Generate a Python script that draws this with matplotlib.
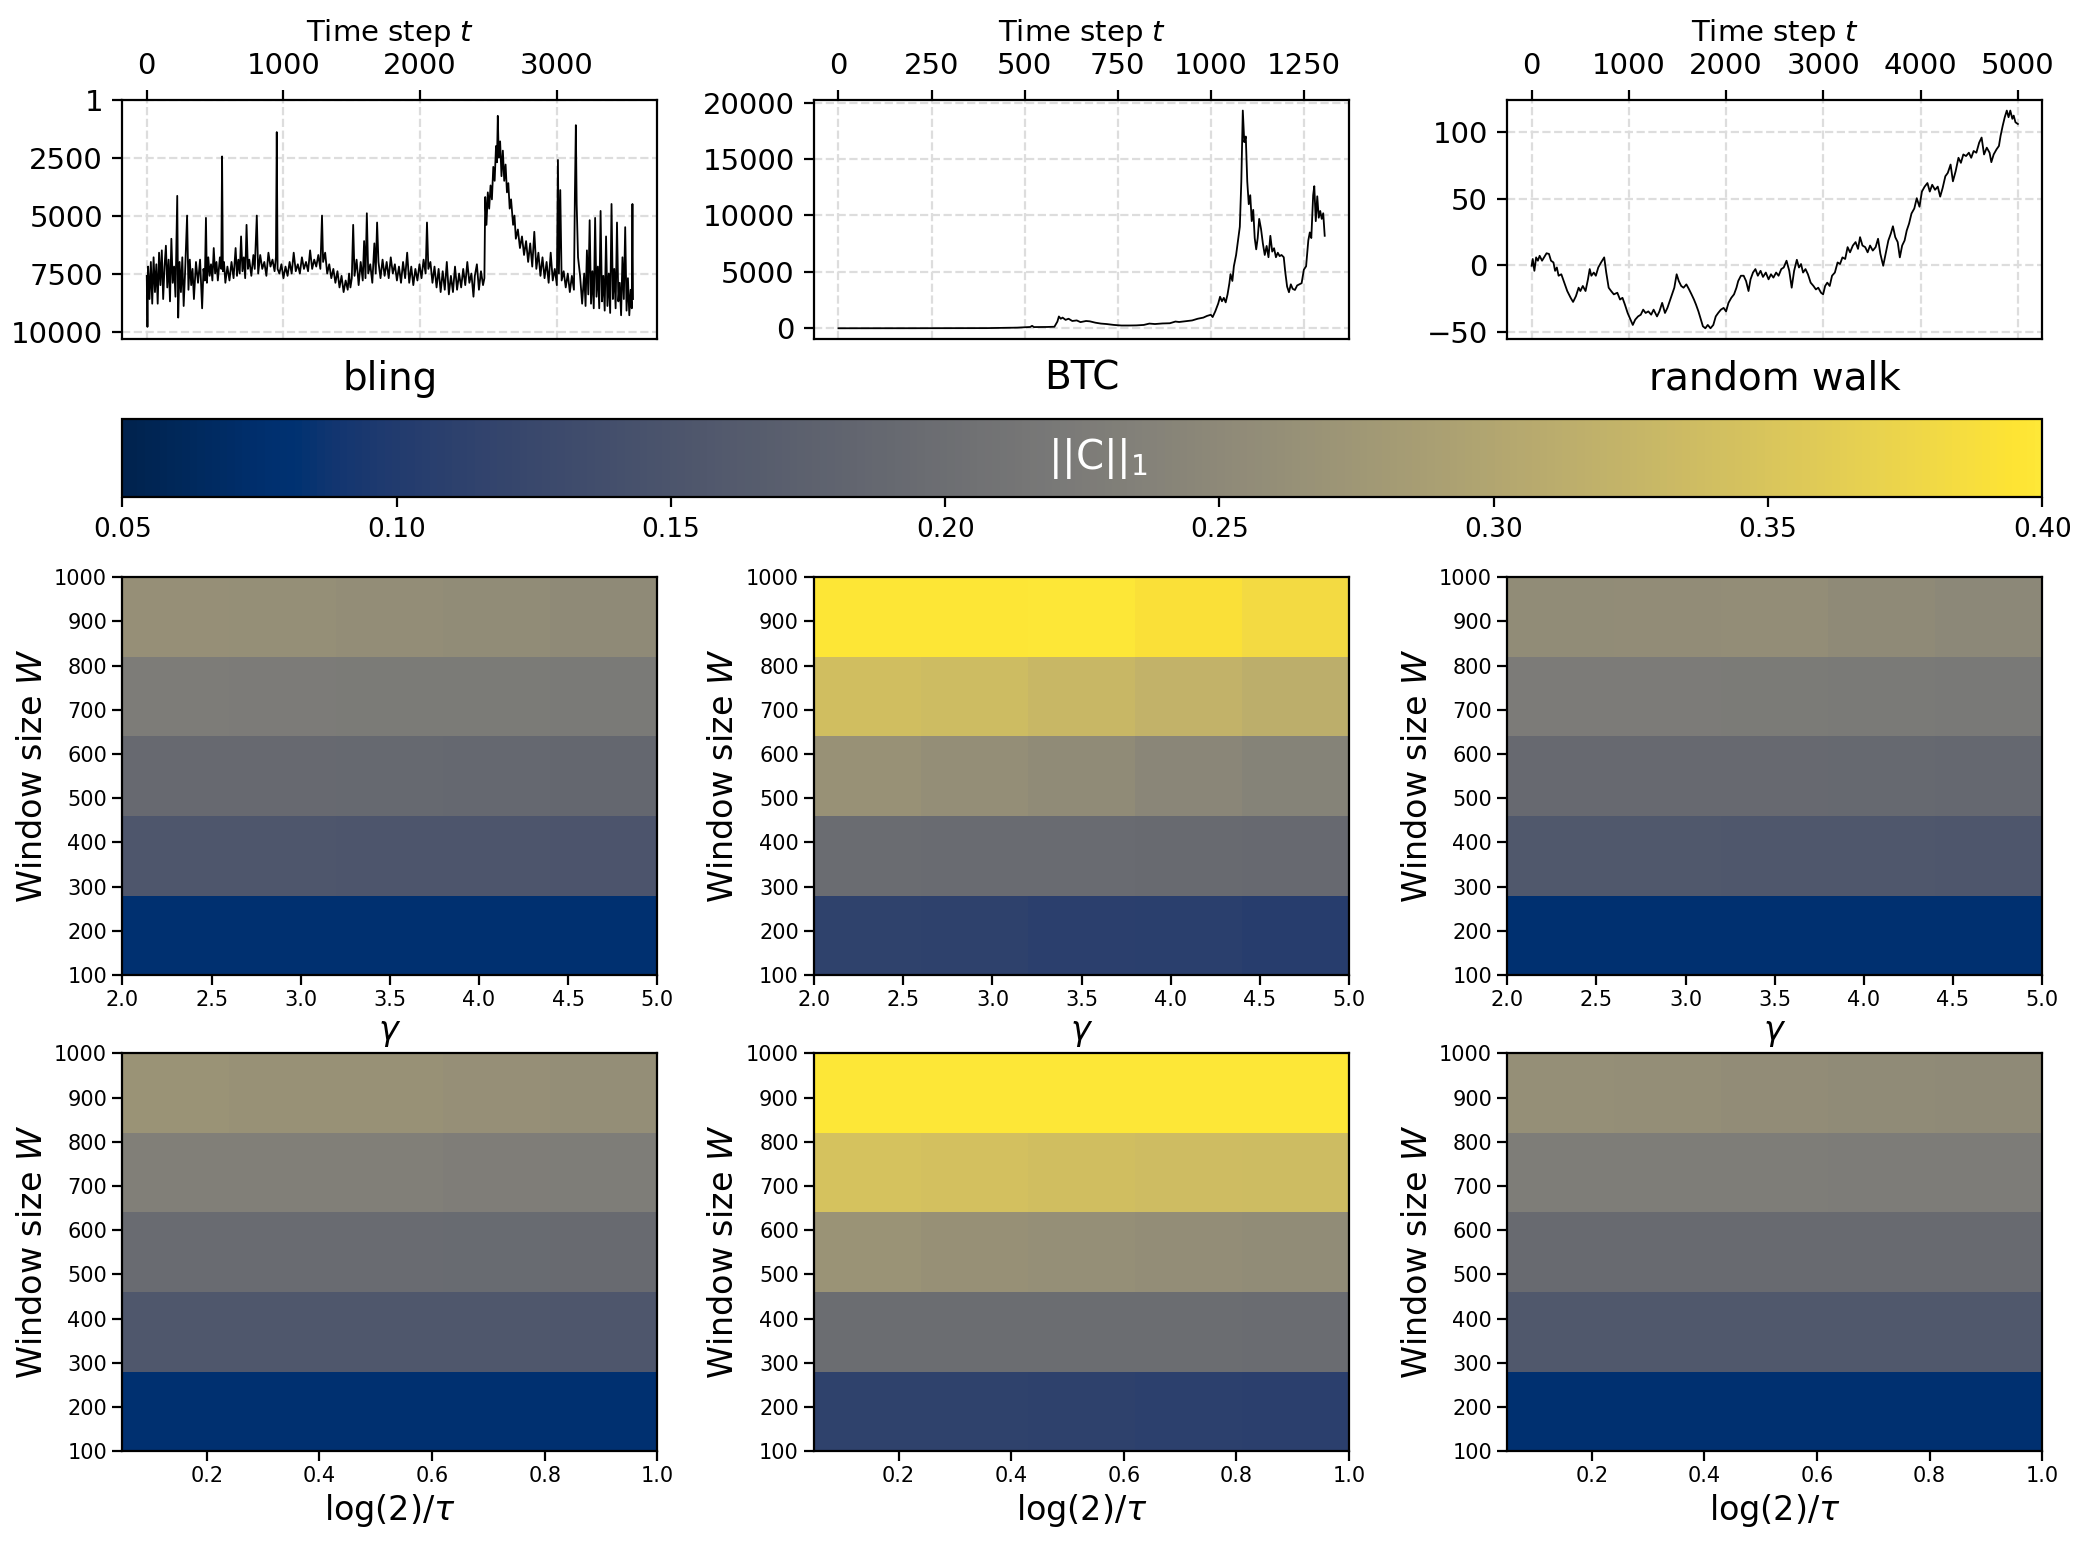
import numpy as np
import matplotlib
matplotlib.use("Agg")
import matplotlib.pyplot as plt

# --- time series ---
bling_t = [0, 5, 10, 20, 30, 40, 50, 60, 70, 80, 90, 100, 110, 120, 130, 140, 150, 160, 170, 180,
           190, 200, 210, 223, 230, 240, 250, 260, 270, 280, 295, 305, 315, 325, 335, 345, 360, 375,
           390, 405, 415, 425, 433, 440, 450, 460, 470, 480, 490, 500, 510, 520, 535, 545, 551, 557,
           565, 575, 590, 605, 620, 635, 650, 660, 670, 680, 690, 700, 710, 720, 730, 740, 750, 765,
           780, 790, 805, 815, 830, 845, 860, 875, 890, 905, 920, 935, 945, 951, 957, 970, 985, 1000,
           1015, 1030, 1045, 1060, 1075, 1090, 1105, 1120, 1135, 1150, 1165, 1180, 1195, 1210, 1225,
           1240, 1255, 1270, 1282, 1290, 1305, 1320, 1335, 1350, 1365, 1380, 1395, 1410, 1425, 1440,
           1455, 1470, 1480, 1490, 1500, 1510, 1520, 1535, 1550, 1565, 1580, 1590, 1600, 1610, 1620,
           1635, 1650, 1665, 1675, 1685, 1695, 1710, 1725, 1740, 1755, 1770, 1785, 1800, 1815, 1830,
           1845, 1860, 1875, 1890, 1905, 1920, 1935, 1950, 1965, 1980, 1995, 2010, 2025, 2040, 2050,
           2060, 2075, 2090, 2105, 2120, 2135, 2150, 2165, 2180, 2195, 2210, 2225, 2240, 2255, 2270,
           2285, 2300, 2315, 2330, 2345, 2360, 2375, 2390, 2400, 2415, 2430, 2445, 2460, 2470, 2476,
           2485, 2495, 2505, 2515, 2525, 2535, 2545, 2555, 2562, 2568, 2575, 2585, 2595, 2605, 2615,
           2625, 2635, 2645, 2655, 2665, 2680, 2690, 2700, 2715, 2730, 2745, 2760, 2775, 2790, 2805,
           2820, 2835, 2850, 2865, 2880, 2895, 2910, 2925, 2940, 2955, 2970, 2985, 3000, 3008, 3015,
           3025, 3035, 3050, 3065, 3080, 3095, 3110, 3125, 3132, 3139, 3145, 3155, 3170, 3185, 3200,
           3210, 3220, 3230, 3240, 3250, 3260, 3270, 3280, 3290, 3300, 3310, 3320, 3330, 3340, 3350,
           3360, 3370, 3380, 3390, 3400, 3410, 3420, 3430, 3440, 3450, 3460, 3470, 3480, 3490, 3500,
           3510, 3520, 3530, 3540, 3548, 3553, 3557]
bling_rank = [7600, 9800, 7200, 8600, 7000, 8800, 6800, 8300, 7100, 8800, 6600, 8000, 6500, 8600, 7200,
              6300, 8100, 6900, 8700, 6000, 7900, 7200, 8500, 4150, 9400, 7000, 8300, 6800, 8900, 7500,
              5000, 8200, 6900, 8000, 7300, 8600, 7000, 7900, 6900, 9000, 7300, 7800, 5100, 7900, 6800,
              7600, 7100, 7800, 6400, 7500, 7000, 7800, 6800, 7300, 2450, 7400, 7000, 7900, 7200, 7800,
              7000, 7700, 6400, 7600, 6900, 7500, 5900, 7400, 6800, 7700, 5400, 7300, 6900, 7600, 6700,
              7300, 5000, 7500, 6700, 7300, 7000, 7600, 6600, 7200, 6900, 7400, 6800, 1400, 7300, 7500,
              7100, 7700, 7200, 7600, 7000, 7500, 6600, 7400, 7100, 7500, 6800, 7300, 7000, 7400, 6500,
              7300, 6900, 7200, 6700, 7300, 5000, 7000, 6600, 7500, 7100, 7700, 7300, 7900, 7400, 8100,
              7600, 8300, 7800, 8200, 7500, 8100, 7700, 5400, 7600, 6900, 8000, 7000, 7800, 6100, 7700,
              4900, 7500, 7100, 7900, 6200, 7500, 5300, 7000, 7700, 6900, 7600, 7000, 7700, 6800, 7500,
              7100, 7800, 7200, 7900, 7000, 7700, 6600, 7900, 7200, 8000, 7300, 7800, 7100, 7700, 6900,
              7500, 5300, 7300, 7000, 7900, 7200, 8100, 7300, 8300, 7400, 8200, 7000, 8400, 7600, 8300,
              7200, 8200, 7500, 8100, 7300, 8000, 7000, 7900, 7500, 8500, 7600, 7100, 8200, 7400, 8000,
              7700, 4200, 5400, 4000, 4700, 3700, 4300, 2900, 3500, 2000, 2700, 700, 2500, 1800, 3300,
              2200, 3500, 2800, 4000, 3600, 4700, 4300, 5400, 5000, 6000, 5600, 6400, 5900, 6700, 6100,
              7000, 6200, 7200, 5700, 7300, 6600, 7600, 6800, 7700, 7000, 7900, 6600, 7800, 7300, 8000,
              2600, 7500, 3900, 7800, 7400, 8100, 7500, 8300, 7600, 8200, 4100, 1100, 4500, 6800, 7600,
              8800, 7500, 8900, 6500, 8400, 5200, 8800, 7400, 9000, 5100, 8500, 7200, 9000, 4800, 8700,
              7600, 9100, 5900, 8900, 7500, 9200, 4500, 8600, 7300, 9000, 5300, 8700, 7900, 9300, 6800,
              8600, 5500, 9100, 7700, 9300, 8200, 9000, 4500, 8600]

btc_t = [0, 100, 200, 300, 400, 480, 515, 520, 525, 560, 580, 588, 592, 597, 602, 610, 618, 628, 640,
         650, 665, 675, 690, 705, 720, 740, 760, 780, 800, 820, 835, 850, 870, 890, 905, 915, 930, 950,
         965, 980, 990, 1000, 1005, 1012, 1020, 1025, 1030, 1035, 1040, 1045, 1050, 1053, 1058, 1062,
         1068, 1072, 1078, 1082, 1086, 1090, 1094, 1098, 1102, 1106, 1110, 1114, 1118, 1122, 1126, 1130,
         1135, 1140, 1145, 1150, 1155, 1160, 1165, 1170, 1175, 1180, 1185, 1190, 1196, 1200, 1205, 1210,
         1215, 1220, 1226, 1232, 1238, 1244, 1250, 1256, 1262, 1266, 1270, 1275, 1278, 1282, 1286, 1290,
         1294, 1298, 1302, 1306]
btc_price = [5, 8, 10, 15, 20, 60, 120, 220, 110, 120, 140, 600, 1050, 850, 950, 750, 850, 650, 700,
             550, 650, 620, 500, 420, 380, 300, 250, 250, 260, 300, 420, 380, 430, 450, 600, 560, 620,
             700, 850, 950, 1100, 1200, 1000, 1500, 2200, 2800, 2400, 2700, 2300, 3000, 4000, 4800, 4200,
             5500, 6500, 7500, 9000, 13000, 19300, 16500, 17000, 13000, 11000, 11800, 9500, 10500, 8000,
             7000, 8000, 9700, 8800, 7500, 6500, 7300, 6300, 8200, 6800, 7100, 6300, 6700, 6400, 6500,
             6300, 5000, 3700, 3200, 3900, 3500, 3400, 3800, 3900, 4000, 5200, 5500, 7800, 8500, 8000,
             11800, 12600, 9500, 11700, 9800, 10400, 9700, 10200, 8200]

rw_t = [0, 11, 28, 46, 64, 82, 107, 128, 153, 178, 199, 224, 241, 259, 277, 305, 330, 366, 401, 426,
        455, 483, 501, 526, 554, 579, 597, 614, 639, 660, 685, 714, 746, 767, 792, 817, 845, 881, 909,
        934, 959, 987, 1016, 1040, 1065, 1094, 1122, 1147, 1172, 1200, 1229, 1254, 1289, 1314, 1342,
        1371, 1396, 1431, 1467, 1491, 1513, 1538, 1562, 1591, 1619, 1644, 1669, 1690, 1715, 1740, 1761,
        1786, 1811, 1839, 1868, 1893, 1918, 1946, 1974, 1999, 2024, 2053, 2081, 2106, 2124, 2152, 2180,
        2205, 2230, 2251, 2276, 2301, 2326, 2354, 2379, 2408, 2436, 2461, 2486, 2514, 2539, 2567, 2592,
        2621, 2649, 2674, 2699, 2727, 2749, 2770, 2791, 2816, 2841, 2869, 2898, 2923, 2947, 2976, 2997,
        3018, 3040, 3065, 3089, 3118, 3146, 3171, 3196, 3224, 3249, 3274, 3303, 3331, 3356, 3377, 3402,
        3430, 3455, 3480, 3508, 3537, 3562, 3586, 3615, 3643, 3668, 3693, 3715, 3739, 3764, 3786, 3810,
        3835, 3857, 3881, 3906, 3935, 3960, 3988, 4013, 4041, 4070, 4094, 4119, 4148, 4176, 4201, 4226,
        4254, 4279, 4308, 4332, 4360, 4389, 4414, 4439, 4467, 4496, 4520, 4545, 4573, 4602, 4627, 4652,
        4680, 4709, 4727, 4751, 4780, 4805, 4822, 4844, 4865, 4886, 4904, 4922, 4943, 4957, 4975, 5000]
rw_value = [-0.5, 4.6, -4.3, 5.8, 3.3, 7.0, 3.3, 5.8, 8.9, 8.4, 3.3, 2.0, -4.3, -1.8, -8.0, -6.9, -12.0,
            -19.5, -24.6, -27.7, -23.4, -17.0, -19.5, -15.7, -19.5, -10.7, -3.0, -8.0, -5.6, -8.0, -1.8,
            2.0, 5.8, -5.6, -17.0, -19.5, -22.0, -20.8, -25.9, -24.6, -29.7, -36.0, -41.0, -45.0, -41.0,
            -38.6, -37.3, -33.5, -36.0, -34.8, -37.3, -33.5, -38.6, -34.8, -28.4, -36.0, -32.2, -24.6,
            -17.0, -6.9, -12.0, -15.7, -17.0, -14.5, -18.3, -22.0, -25.9, -29.7, -34.8, -41.0, -46.0,
            -47.5, -45.0, -47.5, -45.0, -38.6, -36.0, -33.5, -32.2, -34.8, -28.4, -24.6, -22.0, -17.0,
            -12.0, -8.0, -8.0, -12.0, -19.5, -10.7, -5.6, -3.0, -8.0, -4.3, -8.9, -5.6, -10.7, -6.9, -9.4,
            -5.6, -8.0, -3.0, -1.8, 3.3, -4.3, -17.0, -4.3, 4.0, -1.8, 0.8, -5.6, -3.0, -6.9, -13.2, -15.7,
            -18.3, -17.0, -20.8, -22.0, -15.7, -13.2, -15.7, -8.0, -5.6, 2.0, 0.8, 5.8, 4.6, 13.5, 9.6,
            14.7, 17.3, 12.2, 21.0, 14.7, 13.5, 9.6, 14.7, 10.9, 13.5, 19.8, 8.4, -0.5, 9.6, 18.5, 23.6,
            29.2, 21.0, 17.3, 5.8, 14.7, 18.5, 26.0, 31.2, 38.8, 42.6, 50.3, 43.9, 55.3, 59.0, 61.7, 55.3,
            60.4, 56.6, 59.0, 51.5, 57.9, 66.8, 69.3, 75.6, 63.0, 70.6, 80.7, 76.9, 83.2, 82.0, 84.5,
            80.7, 85.8, 84.5, 92.1, 95.9, 83.2, 88.3, 84.5, 77.4, 83.2, 87.0, 89.6, 97.2, 104.8, 111.2,
            116.2, 111.2, 116.2, 110.0, 112.4, 107.4, 106.1]

# --- ||C||_1 grids, rows W = 100..1000 (bottom to top), cols gamma or log(2)/tau ---
bling_gamma = [[0.080, 0.080, 0.080, 0.080, 0.080],
               [0.153, 0.153, 0.152, 0.152, 0.151],
               [0.191, 0.191, 0.190, 0.189, 0.188],
               [0.227, 0.226, 0.225, 0.224, 0.223],
               [0.262, 0.261, 0.259, 0.256, 0.253]]
btc_gamma = [[0.113, 0.112, 0.110, 0.108, 0.106],
             [0.197, 0.196, 0.195, 0.193, 0.192],
             [0.265, 0.260, 0.255, 0.246, 0.240],
             [0.340, 0.336, 0.330, 0.322, 0.315],
             [0.398, 0.398, 0.400, 0.391, 0.383]]
rw_gamma = [[0.080, 0.080, 0.080, 0.080, 0.080],
            [0.157, 0.157, 0.156, 0.156, 0.155],
            [0.192, 0.191, 0.191, 0.190, 0.189],
            [0.226, 0.226, 0.224, 0.223, 0.222],
            [0.256, 0.257, 0.258, 0.253, 0.249]]
bling_tau = [[0.080, 0.080, 0.080, 0.080, 0.080],
             [0.156, 0.156, 0.156, 0.156, 0.155],
             [0.195, 0.195, 0.195, 0.194, 0.193],
             [0.232, 0.232, 0.233, 0.230, 0.228],
             [0.268, 0.266, 0.265, 0.262, 0.260]]
btc_tau = [[0.114, 0.113, 0.112, 0.111, 0.110],
           [0.199, 0.199, 0.198, 0.198, 0.197],
           [0.268, 0.264, 0.261, 0.258, 0.256],
           [0.346, 0.343, 0.341, 0.338, 0.336],
           [0.400, 0.400, 0.400, 0.399, 0.399]]
rw_tau = [[0.080, 0.080, 0.080, 0.080, 0.080],
          [0.157, 0.157, 0.157, 0.157, 0.157],
          [0.193, 0.193, 0.193, 0.193, 0.193],
          [0.228, 0.228, 0.228, 0.227, 0.227],
          [0.261, 0.260, 0.257, 0.255, 0.253]]

names = ["bling", "BTC", "random walk"]
series = [(bling_t, bling_rank), (btc_t, btc_price), (rw_t, rw_value)]
gamma_grids = [bling_gamma, btc_gamma, rw_gamma]
tau_grids = [bling_tau, btc_tau, rw_tau]

vmin, vmax = 0.05, 0.4
cmap = "cividis"

fig = plt.figure(figsize=(10.43, 7.715), dpi=200)

lefts = [0.0587, 0.3903, 0.7226]
width = 0.2564

# --- top row: the series ---
for i, (name, (t, v)) in enumerate(zip(names, series)):
    ax = fig.add_axes([lefts[i], 0.7802, width, 0.1552])
    ax.plot(t, v, color="black", lw=0.65)
    ax.xaxis.tick_top()
    ax.xaxis.set_label_position("top")
    ax.set_xlabel("Time step $t$", fontsize=10.5)
    ax.tick_params(labelsize=10.5)
    ax.grid(True, ls="--", color="#dddddd", lw=0.8)
    ax.text(0.5, -0.085, name, transform=ax.transAxes, ha="center", va="top", fontsize=14)
    if name == "bling":
        ax.set_ylim(10330, 1)
        ax.set_yticks([1, 2500, 5000, 7500, 10000])
        ax.set_xticks([0, 1000, 2000, 3000])
    elif name == "BTC":
        ax.set_xticks([0, 250, 500, 750, 1000, 1250])
        ax.set_yticks([0, 5000, 10000, 15000, 20000])
    else:
        ax.set_xticks([0, 1000, 2000, 3000, 4000, 5000])
        ax.set_yticks([-50, 0, 50, 100])

# --- heatmaps ---
row_bottoms = [0.3681, 0.0595]
hm_height = 0.2578
im = None
for r, (grids, extent_x, xlabel) in enumerate([
        (gamma_grids, (2.0, 5.0), r"$\gamma$"),
        (tau_grids, (0.05, 1.0), r"log(2)/$\tau$")]):
    for i, grid in enumerate(grids):
        ax = fig.add_axes([lefts[i], row_bottoms[r], width, hm_height])
        im = ax.imshow(np.array(grid), origin="lower", aspect="auto", cmap=cmap,
                       vmin=vmin, vmax=vmax,
                       extent=[extent_x[0], extent_x[1], 100, 1000])
        ax.set_yticks(range(100, 1001, 100))
        if r == 0:
            ax.set_xticks([2.0, 2.5, 3.0, 3.5, 4.0, 4.5, 5.0])
            ax.set_xticklabels(["2.0", "2.5", "3.0", "3.5", "4.0", "4.5", "5.0"])
        else:
            ax.set_xticks([0.2, 0.4, 0.6, 0.8, 1.0])
            ax.set_xticklabels(["0.2", "0.4", "0.6", "0.8", "1.0"])
        ax.tick_params(labelsize=7.5, pad=2)
        ax.set_xlabel(xlabel, fontsize=12, labelpad=2)
        ax.set_ylabel("Window size $W$", fontsize=12, labelpad=2)

# --- colorbar ---
cax = fig.add_axes([0.0587, 0.6776, 0.9203, 0.0508])
cb = fig.colorbar(im, cax=cax, orientation="horizontal")
cb.set_ticks([0.05, 0.10, 0.15, 0.20, 0.25, 0.30, 0.35, 0.40])
cb.set_ticklabels(["0.05", "0.10", "0.15", "0.20", "0.25", "0.30", "0.35", "0.40"])
cax.tick_params(labelsize=9.5)
cax.text(0.508, 0.5, r"||C||$_1$", transform=cax.transAxes, ha="center", va="center",
         color="white", fontsize=14.5)

fig.savefig("out.png", dpi=200)
